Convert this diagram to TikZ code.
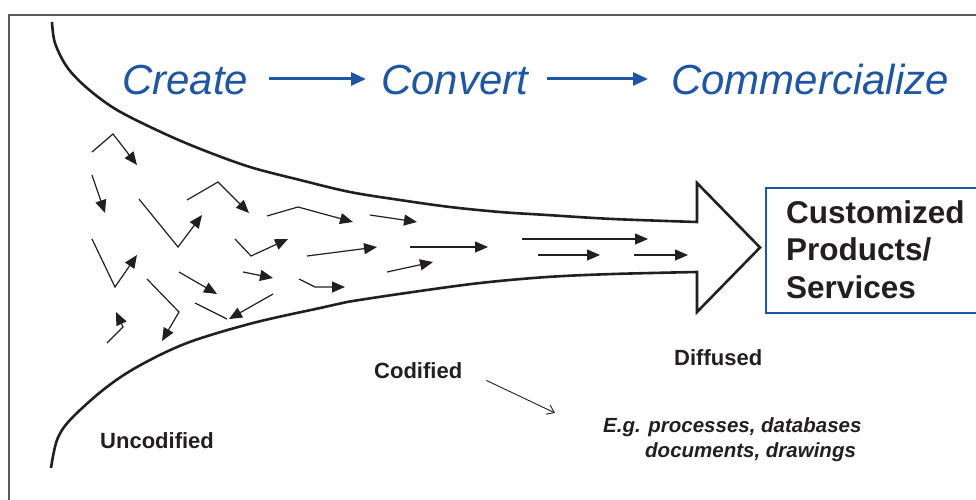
\documentclass[tikz,border=0pt]{standalone}
\usepackage{fontspec}
\setmainfont{Liberation Sans}
\usetikzlibrary{arrows.meta}
\definecolor{titleblue}{HTML}{1E56A3}
\definecolor{ink}{HTML}{231F20}
\definecolor{framegray}{HTML}{5A5A5A}
\tikzset{
  lbl/.style={inner sep=0pt, anchor=base west, text=ink},
  titletext/.style={lbl, text=titleblue, font=\fontsize{42}{42}\selectfont\itshape},
  stagetext/.style={lbl, font=\fontsize{22}{22}\selectfont\bfseries},
  exampletext/.style={lbl, font=\fontsize{20.5}{20.5}\selectfont\bfseries\itshape},
  boxtext/.style={lbl, font=\fontsize{31.5}{31.5}\selectfont\bfseries},
  titlearrow/.style={draw=titleblue, line width=3pt, -{Triangle[length=15pt,width=13pt]}},
  flow/.style={draw=ink, line width=1.2pt, line join=miter, -{Triangle[length=13pt,width=11pt]}},
  flowline/.style={draw=ink, line width=1.2pt},
  funnel/.style={draw=ink, line width=2.6pt, line join=miter},
  pointer/.style={draw=ink, line width=0.9pt, -{Straight Barb[length=7pt,width=10pt]}}
}
\begin{document}
\begin{tikzpicture}[x=1pt,y=-1pt]
\useasboundingbox (0,0) rectangle (976,500);
\clip (0,0) rectangle (976,500);

% page frame (top and left edges)
\draw[framegray, line width=1.5pt] (9,500) -- (9,15) -- (980,15);

% stages across the top
\node[titletext] (create) at (122,95) {Create};
\node[titletext] (convert) at (381,95) {Convert};
\node[titletext] (commercialize) at (671,95) {Commercialize};
\draw[titlearrow] (269,79) coordinate (a1s) -- (366,79) coordinate (a1e);
\draw[titlearrow] (547,79) coordinate (a2s) -- (648,79) coordinate (a2e);

% funnel narrowing into a block arrow
\draw[funnel] plot[smooth, tension=0.55] coordinates {
  (52,22) (55,43) (67,67) (87,88) (117,110) (163,133) (203,150) (250,167)
  (300,180) (350,192) (400,200) (450,207) (500,212) (547,215) (613,219) (697,222)}
  -- (697,183) -- (760,247.5) -- (697,312) -- (697,272)
  -- plot[smooth, tension=0.55] coordinates {
  (697,272) (613,274) (547,277) (480,283) (413,292) (347,302) (320,308)
  (253,323) (187,343) (137,367) (103,390) (70,420) (57,440) (51,468)};

% scattered knowledge flows settling into a stream
\draw[flow] (92,152) -- (113,134) -- (137,165);
\draw[flow] (92,175) -- (105,213);
\draw[flow] (139,199) -- (178,247) -- (202,215);
\draw[flow] (187,200) -- (218,182) -- (249,213);
\draw[flow] (267,216) -- (298,207) -- (353,222);
\draw[flow] (370,215) -- (417,222);
\draw[flow] (235,239) -- (251,256) -- (288,239);
\draw[flow] (307,256) -- (377,247);
\draw[flow] (92,239) -- (115,287) -- (137,255);
\draw[flow] (179,272) -- (217,294);
\draw[flow] (243,272) -- (273,278);
\draw[flow] (299,279) -- (315,287) -- (345,287);
\draw[flow] (147,279) -- (179,312) -- (162,341);
\draw[flowline] (195,303) -- (227,319);
\draw[flow] (273,294) -- (229,319);
\draw[flow] (107,343) -- (123,327) -- (116,312);
\draw[flow] (410,247) -- (488,247);
\draw[flow] (387,272) -- (433,262);
\draw[flow] (522,239) -- (648,239);
\draw[flow] (538,255) -- (600,255);
\draw[flow] (634,255) -- (688,255);

% outcome box
\draw[titleblue, line width=1.6pt] (766,188) rectangle (995,313);
\node[boxtext] (l1) at (786,223) {Customized};
\node[boxtext] (l2) at (786,260.5) {Products/};
\node[boxtext] (l3) at (786,298) {Services};

% stage labels
\node[stagetext] (uncod) at (100,448) {Uncodified};
\node[stagetext] (cod) at (374,378) {Codified};
\node[stagetext] (diff) at (674,365) {Diffused};
\node[exampletext] (ex1) at (603,432) {E.g. processes, databases};
\node[exampletext] (ex2) at (645,457) {documents, drawings};
\draw[pointer] ([xshift=24pt,yshift=-2pt]cod.south east) -- ([xshift=-48pt,yshift=4pt]ex1.north west);
\end{tikzpicture}
\end{document}
